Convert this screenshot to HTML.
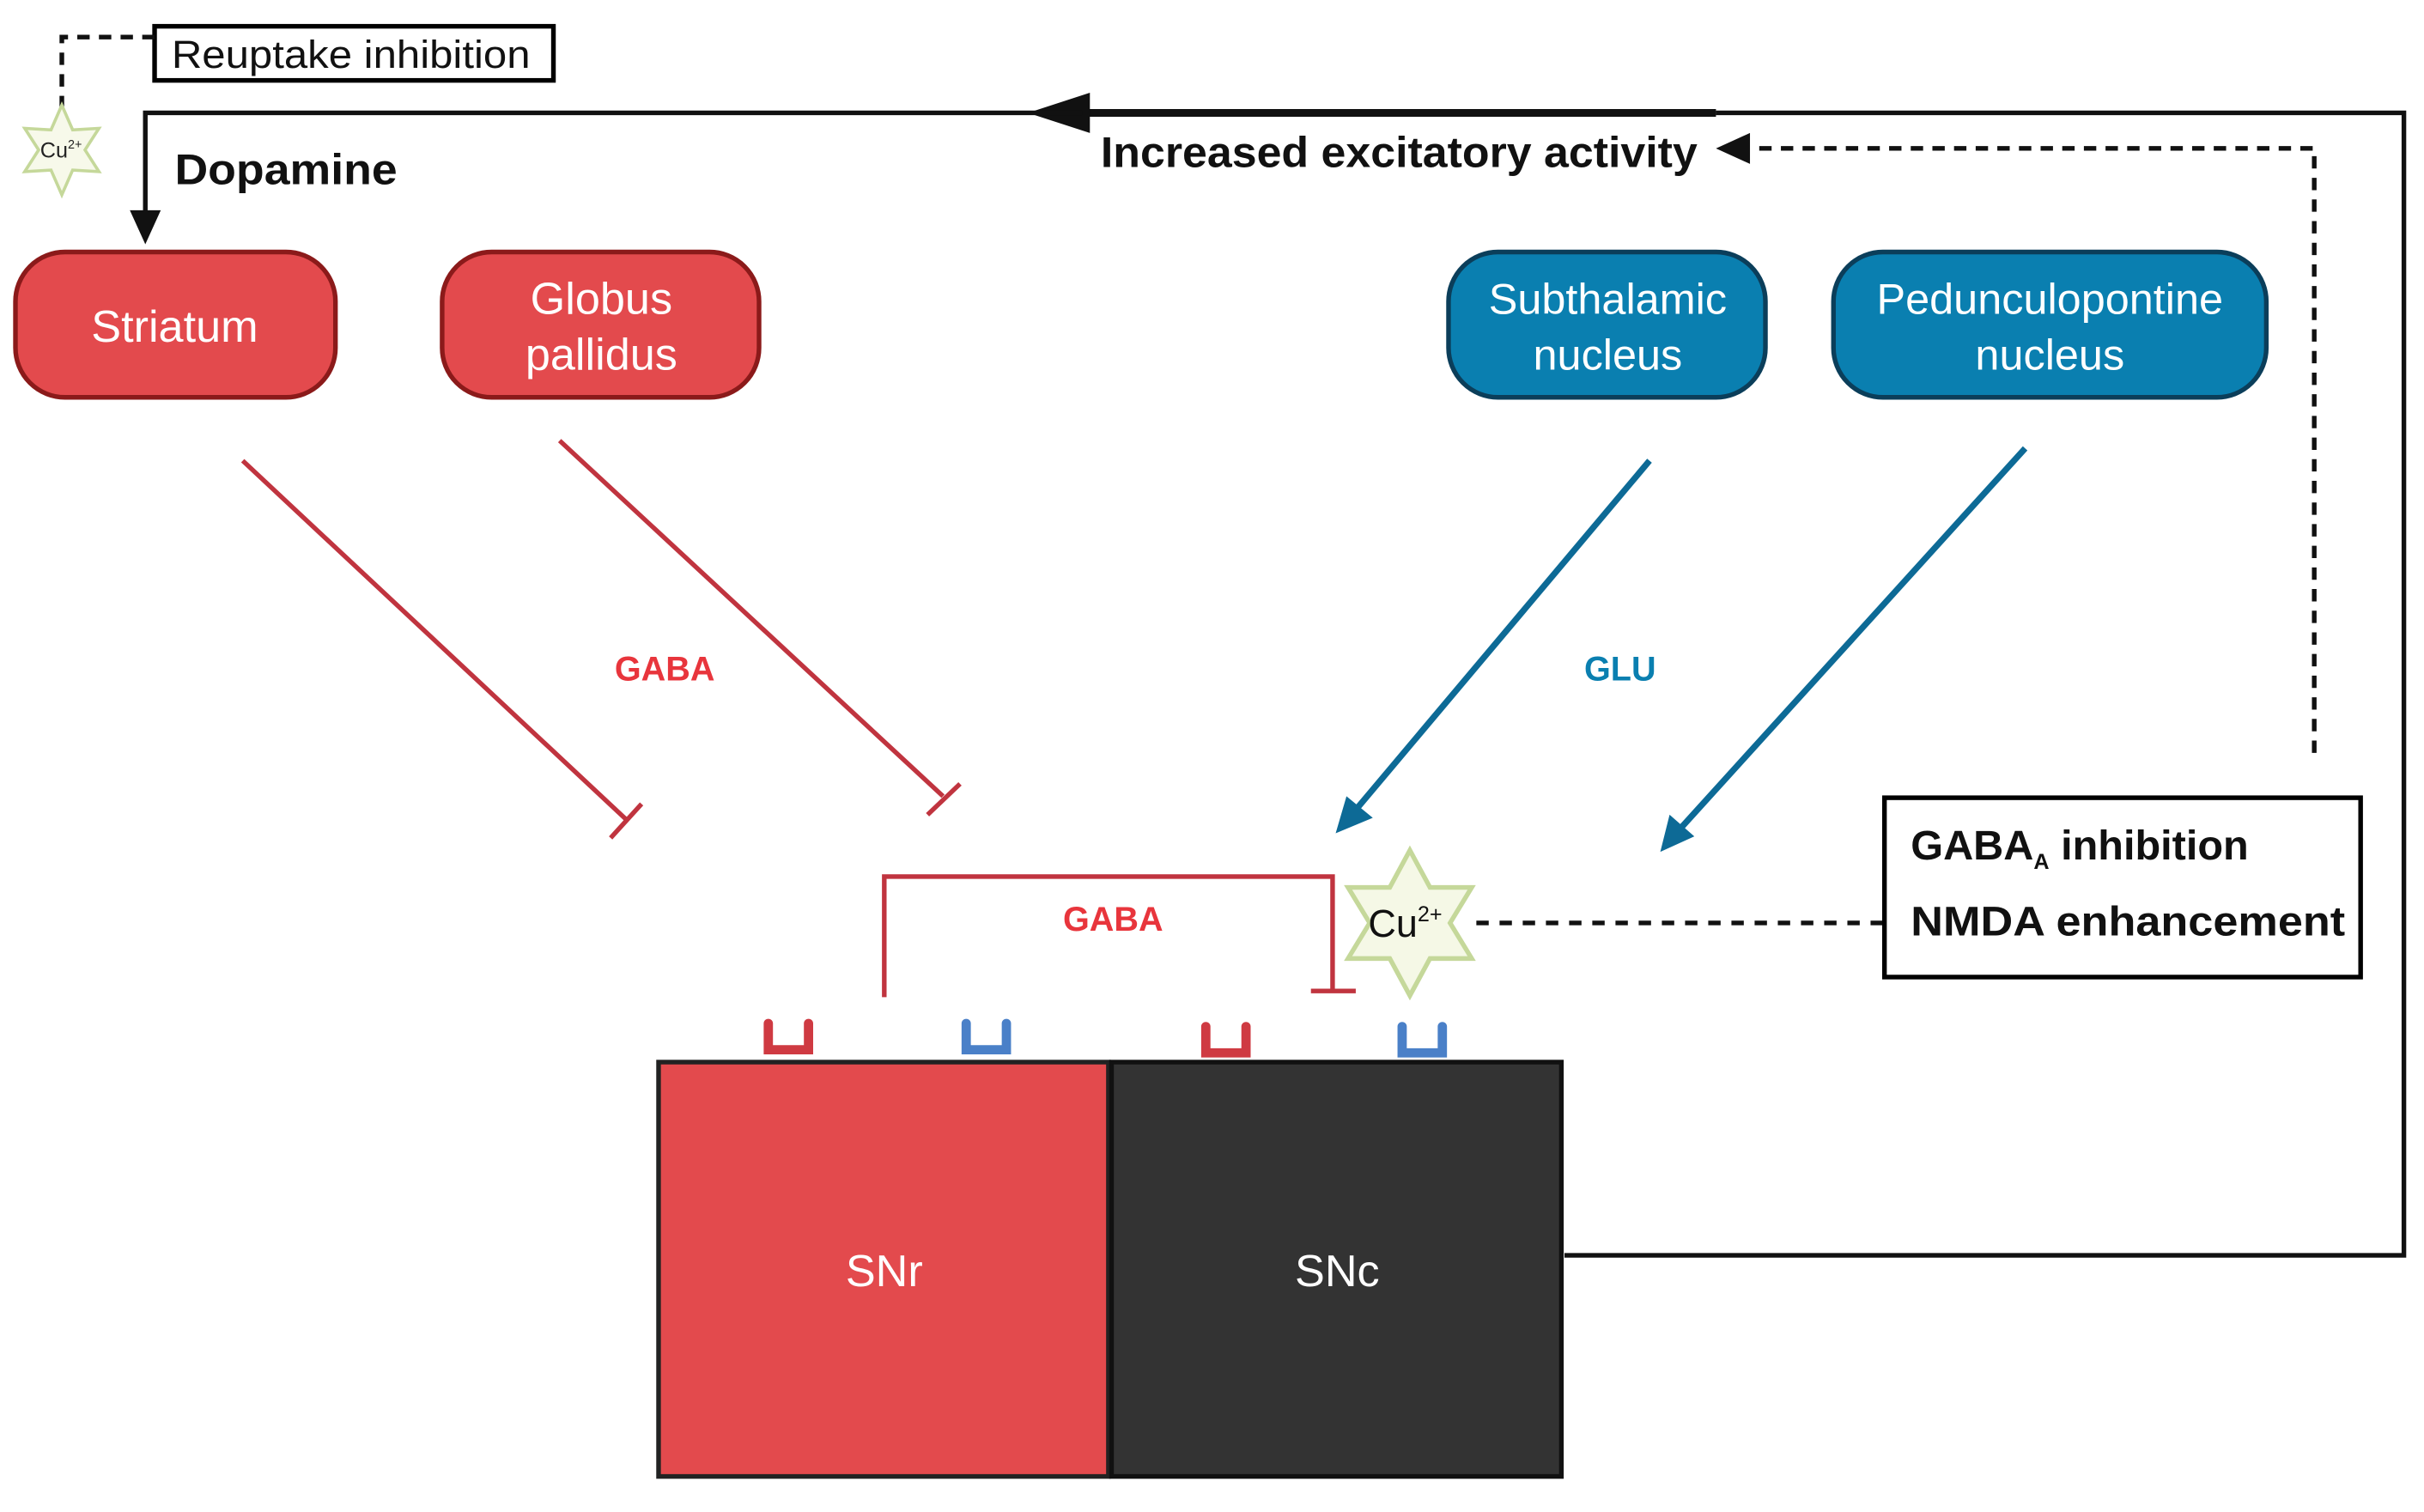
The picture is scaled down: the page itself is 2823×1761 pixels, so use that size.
<!DOCTYPE html>
<html><head><meta charset="utf-8"><style>
html,body{margin:0;padding:0;background:#fff}
svg{display:block}
text{font-family:"Liberation Sans",sans-serif}
</style></head><body>
<svg width="2823" height="1761" viewBox="0 0 1568 978" preserveAspectRatio="none" xmlns="http://www.w3.org/2000/svg">
<!-- Reuptake -->
<rect x="100" y="17" width="258" height="35" fill="#fff" stroke="#000" stroke-width="3"/>
<text x="111" y="44" font-size="25" fill="#111" textLength="232" lengthAdjust="spacingAndGlyphs">Reuptake inhibition</text>
<path d="M100,24 H40 V72" fill="none" stroke="#111" stroke-width="3" stroke-dasharray="8,6"/>
<polygon points="40,68 47,84 64,83 55,97 64,111 47,110 40,126 33,110 16,111 25,97 16,83 33,84" fill="#f7f9ea" stroke="#c5d89a" stroke-width="2"/>
<text x="26" y="102" font-size="14" fill="#222">Cu<tspan font-size="8" dy="-6">2+</tspan></text>
<!-- top feedback -->
<path d="M1012,812 H1555 V73 H1110" fill="none" stroke="#111" stroke-width="3"/>
<path d="M1110,73 H700" fill="none" stroke="#111" stroke-width="5"/>
<polygon points="665,73 705,60 705,86" fill="#111"/>
<path d="M700,73 H94 V140" fill="none" stroke="#111" stroke-width="3"/>
<polygon points="94,158 84,136 104,136" fill="#111"/>
<text x="113" y="119" font-size="28" font-weight="bold" fill="#111" textLength="144" lengthAdjust="spacingAndGlyphs">Dopamine</text>
<text x="712" y="108" font-size="28" font-weight="bold" fill="#111" textLength="386" lengthAdjust="spacingAndGlyphs">Increased excitatory activity</text>
<path d="M1497,487 V96 H1132" fill="none" stroke="#111" stroke-width="3" stroke-dasharray="8,6"/>
<polygon points="1110,96 1132,86 1132,106" fill="#111"/>
<!-- nodes -->
<rect x="10" y="163" width="207" height="94" rx="32" fill="#e34a4d" stroke="#8b1a1a" stroke-width="3"/>
<text x="113" y="221" font-size="29" fill="#fff" text-anchor="middle">Striatum</text>
<rect x="286" y="163" width="205" height="94" rx="32" fill="#e34a4d" stroke="#8b1a1a" stroke-width="3"/>
<text x="389" y="203" font-size="29" fill="#fff" text-anchor="middle">Globus</text>
<text x="389" y="239" font-size="29" fill="#fff" text-anchor="middle">pallidus</text>
<rect x="937" y="163" width="205" height="94" rx="32" fill="#0a7fb0" stroke="#0b3e5a" stroke-width="3"/>
<text x="1040" y="203" font-size="28" fill="#fff" text-anchor="middle">Subthalamic</text>
<text x="1040" y="239" font-size="28" fill="#fff" text-anchor="middle">nucleus</text>
<rect x="1186" y="163" width="280" height="94" rx="32" fill="#0a7fb0" stroke="#0b3e5a" stroke-width="3"/>
<text x="1326" y="203" font-size="28" fill="#fff" text-anchor="middle">Pedunculopontine</text>
<text x="1326" y="239" font-size="28" fill="#fff" text-anchor="middle">nucleus</text>
<!-- inhibitory red -->
<g stroke="#c0343f" stroke-width="3" fill="none">
<path d="M157,298 L405,530"/><path d="M395,542 L415,520"/>
<path d="M362,285 L610,515"/><path d="M600,527 L621,507"/>
<path d="M572,645 V567 H862 V640"/><path d="M848,641 H877"/>
</g>
<text x="430" y="440" font-size="22" font-weight="bold" fill="#e8353c" text-anchor="middle">GABA</text>
<text x="720" y="602" font-size="22" font-weight="bold" fill="#e8353c" text-anchor="middle">GABA</text>
<text x="1048" y="440" font-size="22" font-weight="bold" fill="#0a7fb0" text-anchor="middle">GLU</text>
<!-- blue arrows -->
<g stroke="#0d6a96" stroke-width="4" fill="none">
<path d="M1067,298 L876,525"/><path d="M1310,290 L1086,537"/>
</g>
<polygon points="864,539 871,515 888,529" fill="#0d6a96"/>
<polygon points="1074,551 1080,527 1096,541" fill="#0d6a96"/>
<!-- Cu star -->
<polygon points="912,550 925,574 952,574 938,597 952,620 925,620 912,644 899,620 872,620 886,597 872,574 899,574" fill="#f5f8e6" stroke="#c5d89a" stroke-width="3"/>
<text x="885" y="606" font-size="25" fill="#111">Cu<tspan font-size="14" dy="-10">2+</tspan></text>
<path d="M955,597 H1218" stroke="#111" stroke-width="3" stroke-dasharray="8,7"/>
<rect x="1219" y="516" width="308" height="116" fill="#fff" stroke="#000" stroke-width="3"/>
<text x="1236" y="556" font-size="27" font-weight="bold" fill="#111">GABA<tspan font-size="14" dy="6">A</tspan><tspan dy="-6"> inhibition</tspan></text>
<text x="1236" y="605" font-size="27" font-weight="bold" fill="#111" textLength="281" lengthAdjust="spacingAndGlyphs">NMDA enhancement</text>
<!-- receptors -->
<g fill="none" stroke-width="6" stroke-linecap="round">
<path d="M497,662 V679 H523 V662" stroke="#cf3a42"/>
<path d="M625,662 V679 H651 V662" stroke="#4a80c8"/>
<path d="M780,664 V681 H806 V664" stroke="#cf3a42"/>
<path d="M907,664 V681 H933 V664" stroke="#4a80c8"/>
</g>
<!-- SN boxes -->
<rect x="426" y="687" width="291" height="268" fill="#e34a4d" stroke="#222" stroke-width="3"/>
<rect x="719" y="687" width="291" height="268" fill="#333" stroke="#111" stroke-width="3"/>
<text x="572" y="832" font-size="29" fill="#fff" text-anchor="middle">SNr</text>
<text x="865" y="832" font-size="29" fill="#fff" text-anchor="middle">SNc</text>
</svg>
</body></html>
